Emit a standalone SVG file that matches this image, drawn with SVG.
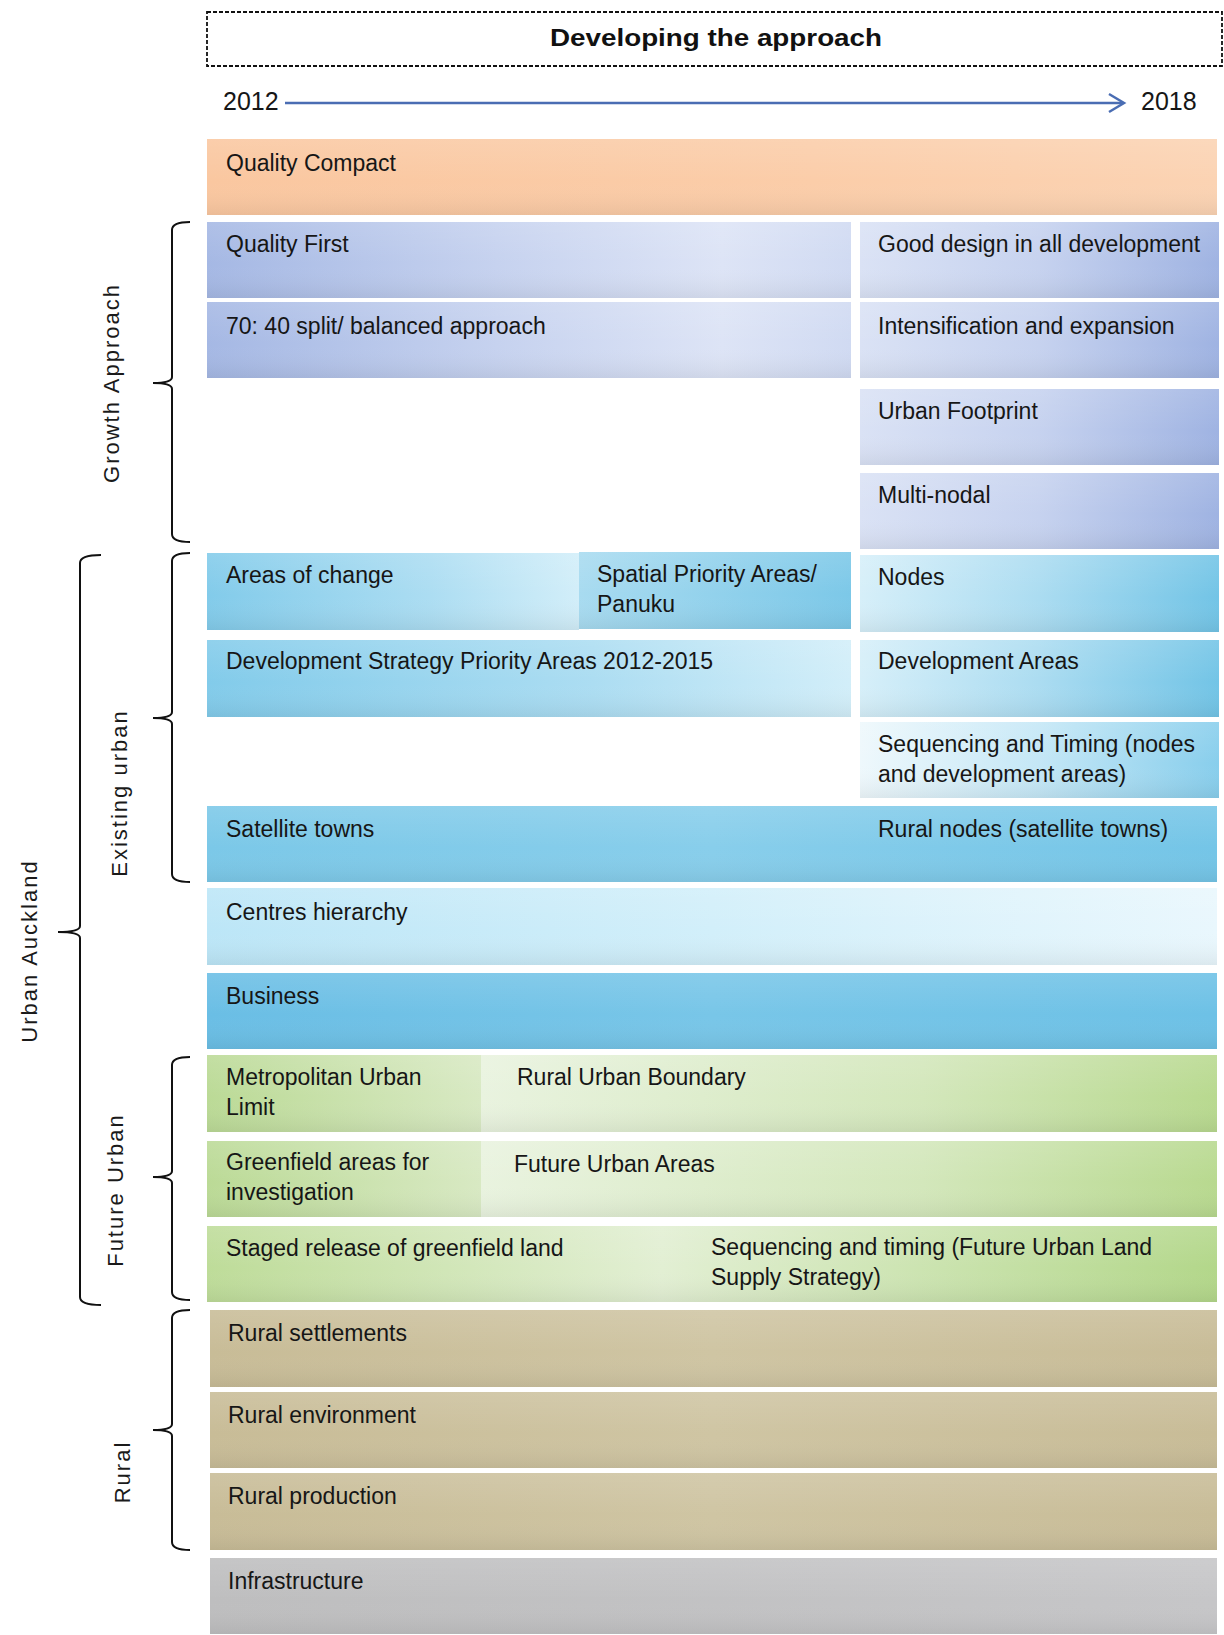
<svg xmlns="http://www.w3.org/2000/svg" width="1224" height="1635" viewBox="0 0 1224 1635">
<defs>
<style>
.t{font-family:"Liberation Sans",Arial,sans-serif;font-size:23px;fill:#161616}
.title{font-family:"Liberation Sans",Arial,sans-serif;font-size:24px;font-weight:bold;fill:#111;text-anchor:middle}
.year{font-family:"Liberation Sans",Arial,sans-serif;font-size:25px;fill:#161616}
.lbl{font-family:"Liberation Sans",Arial,sans-serif;font-size:22px;letter-spacing:2px;fill:#1a1a1a;text-anchor:middle}
.brace{fill:none;stroke:#111;stroke-width:2}
.shade{fill:url(#gShade)}
.dash{fill:#fff;stroke:#111;stroke-width:1.8;stroke-dasharray:4 2}
</style>
<linearGradient id="gShade" x1="0" y1="0" x2="0" y2="1">
<stop offset="0" stop-color="#fff" stop-opacity="0.12"/>
<stop offset="0.55" stop-color="#fff" stop-opacity="0"/>
<stop offset="1" stop-color="#000" stop-opacity="0.06"/>
</linearGradient>
<linearGradient id="gOrange" x1="0" y1="0" x2="1" y2="0">
<stop offset="0" stop-color="#FAC7A0"/><stop offset="0.6" stop-color="#FBCDA9"/><stop offset="1" stop-color="#FBD3B3"/>
</linearGradient>
<linearGradient id="gBlueL" x1="0" y1="0" x2="1" y2="0">
<stop offset="0" stop-color="#A5B8E4"/><stop offset="0.45" stop-color="#C6D2EF"/><stop offset="0.8" stop-color="#DDE4F6"/><stop offset="1" stop-color="#D0DAF2"/>
</linearGradient>
<linearGradient id="gBlueR" x1="0" y1="0" x2="1" y2="0">
<stop offset="0" stop-color="#DAE2F5"/><stop offset="0.5" stop-color="#C6D2EF"/><stop offset="1" stop-color="#9FB3E2"/>
</linearGradient>
<linearGradient id="gCyanL" x1="0" y1="0" x2="1" y2="0">
<stop offset="0" stop-color="#82CBEA"/><stop offset="0.6" stop-color="#ACDDF2"/><stop offset="1" stop-color="#D2EEF9"/>
</linearGradient>
<linearGradient id="gCyanS" x1="0" y1="0" x2="1" y2="0">
<stop offset="0" stop-color="#A8DBF0"/><stop offset="1" stop-color="#7CC8E8"/>
</linearGradient>
<linearGradient id="gCyanR" x1="0" y1="0" x2="1" y2="0">
<stop offset="0" stop-color="#D6EFF9"/><stop offset="0.5" stop-color="#ABDCF1"/><stop offset="1" stop-color="#72C4E6"/>
</linearGradient>
<linearGradient id="gCyanSeq" x1="0" y1="0" x2="1" y2="0">
<stop offset="0" stop-color="#EEF8FC"/><stop offset="0.5" stop-color="#C4E7F6"/><stop offset="1" stop-color="#88CEEC"/>
</linearGradient>
<linearGradient id="gSat" x1="0" y1="0" x2="1" y2="0">
<stop offset="0" stop-color="#7BC8E8"/><stop offset="0.5" stop-color="#88CEEB"/><stop offset="1" stop-color="#74C5E7"/>
</linearGradient>
<linearGradient id="gCentres" x1="0" y1="0" x2="1" y2="0">
<stop offset="0" stop-color="#BCE6F7"/><stop offset="0.5" stop-color="#D2EFFA"/><stop offset="1" stop-color="#E9F7FD"/>
</linearGradient>
<linearGradient id="gBus" x1="0" y1="0" x2="1" y2="0">
<stop offset="0" stop-color="#6ABEE5"/><stop offset="0.5" stop-color="#78C6E8"/><stop offset="1" stop-color="#6DC1E6"/>
</linearGradient>
<linearGradient id="gGreenL" x1="0" y1="0" x2="1" y2="0">
<stop offset="0" stop-color="#BBDA96"/><stop offset="1" stop-color="#D8E9C3"/>
</linearGradient>
<linearGradient id="gGreenR" x1="0" y1="0" x2="1" y2="0">
<stop offset="0" stop-color="#E9F3DF"/><stop offset="0.6" stop-color="#D3E7BB"/><stop offset="1" stop-color="#B8D98F"/>
</linearGradient>
<linearGradient id="gGreenS" x1="0" y1="0" x2="1" y2="0">
<stop offset="0" stop-color="#BEDC99"/><stop offset="0.45" stop-color="#E2EFD3"/><stop offset="1" stop-color="#B3D78A"/>
</linearGradient>
<linearGradient id="gTan" x1="0" y1="0" x2="1" y2="0">
<stop offset="0" stop-color="#C8BC97"/><stop offset="0.5" stop-color="#CFC5A3"/><stop offset="1" stop-color="#C8BC97"/>
</linearGradient>
<linearGradient id="gGrey" x1="0" y1="0" x2="1" y2="0">
<stop offset="0" stop-color="#BEBEBF"/><stop offset="1" stop-color="#C6C6C8"/>
</linearGradient>
</defs>
<rect width="1224" height="1635" fill="#fff"/>

<g id="title">
<rect x="207" y="12" width="1015" height="54" class="dash"/>
<text x="716" y="46" class="title" textLength="332" lengthAdjust="spacingAndGlyphs">Developing the approach</text>
</g>

<g id="timeline-labels">
<text x="223" y="110" class="year">2012</text>
<text x="1141" y="110" class="year">2018</text>
</g>

<g id="connectors">
<line x1="285" y1="103" x2="1122" y2="103" stroke="#4A6DB3" stroke-width="2.5"/>
<path d="M1109,94 L1124,103 L1109,112" fill="none" stroke="#4A6DB3" stroke-width="2.5" stroke-linejoin="miter"/>
</g>

<g id="quality-compact"><rect x="207" y="139" width="1010" height="76" fill="url(#gOrange)"/><rect x="207" y="139" width="1010" height="76" class="shade"/><text x="226" y="171" class="t">Quality Compact</text></g>

<g id="quality-first"><rect x="207" y="222" width="644" height="76" fill="url(#gBlueL)"/><rect x="207" y="222" width="644" height="76" class="shade"/><text x="226" y="252" class="t">Quality First</text></g>
<g id="good-design"><rect x="860" y="222" width="359" height="76" fill="url(#gBlueR)"/><rect x="860" y="222" width="359" height="76" class="shade"/><text x="878" y="252" class="t">Good design in all development</text></g>
<g id="split"><rect x="207" y="302" width="644" height="76" fill="url(#gBlueL)"/><rect x="207" y="302" width="644" height="76" class="shade"/><text x="226" y="334" class="t">70: 40 split/ balanced approach</text></g>
<g id="intensification"><rect x="860" y="302" width="359" height="76" fill="url(#gBlueR)"/><rect x="860" y="302" width="359" height="76" class="shade"/><text x="878" y="334" class="t">Intensification and expansion</text></g>
<g id="urban-footprint"><rect x="860" y="389" width="359" height="76" fill="url(#gBlueR)"/><rect x="860" y="389" width="359" height="76" class="shade"/><text x="878" y="419" class="t">Urban Footprint</text></g>
<g id="multi-nodal"><rect x="860" y="473" width="359" height="76" fill="url(#gBlueR)"/><rect x="860" y="473" width="359" height="76" class="shade"/><text x="878" y="503" class="t">Multi-nodal</text></g>

<g id="areas-of-change"><rect x="207" y="553" width="372" height="77" fill="url(#gCyanL)"/><rect x="207" y="553" width="372" height="77" class="shade"/><text x="226" y="583" class="t">Areas of change</text></g>
<g id="spatial-priority"><rect x="579" y="552" width="272" height="77" fill="url(#gCyanS)"/><rect x="579" y="552" width="272" height="77" class="shade"/><text x="597" y="582" class="t">Spatial Priority Areas/</text><text x="597" y="612" class="t">Panuku</text></g>
<g id="nodes"><rect x="860" y="555" width="359" height="77" fill="url(#gCyanR)"/><rect x="860" y="555" width="359" height="77" class="shade"/><text x="878" y="585" class="t">Nodes</text></g>
<g id="dev-strategy"><rect x="207" y="640" width="644" height="77" fill="url(#gCyanL)"/><rect x="207" y="640" width="644" height="77" class="shade"/><text x="226" y="669" class="t">Development Strategy Priority Areas 2012-2015</text></g>
<g id="dev-areas"><rect x="860" y="640" width="359" height="77" fill="url(#gCyanR)"/><rect x="860" y="640" width="359" height="77" class="shade"/><text x="878" y="669" class="t">Development Areas</text></g>
<g id="sequencing-nodes"><rect x="860" y="722" width="359" height="76" fill="url(#gCyanSeq)"/><rect x="860" y="722" width="359" height="76" class="shade"/><text x="878" y="752" class="t">Sequencing and Timing (nodes</text><text x="878" y="782" class="t">and development areas)</text></g>
<g id="satellite-towns"><rect x="207" y="806" width="1010" height="76" fill="url(#gSat)"/><rect x="207" y="806" width="1010" height="76" class="shade"/><text x="226" y="837" class="t">Satellite towns</text><text x="878" y="837" class="t">Rural nodes (satellite towns)</text></g>
<g id="centres-hierarchy"><rect x="207" y="888" width="1010" height="77" fill="url(#gCentres)"/><rect x="207" y="888" width="1010" height="77" class="shade"/><text x="226" y="920" class="t">Centres hierarchy</text></g>
<g id="business"><rect x="207" y="973" width="1010" height="76" fill="url(#gBus)"/><rect x="207" y="973" width="1010" height="76" class="shade"/><text x="226" y="1004" class="t">Business</text></g>

<g id="metro-urban-limit"><rect x="207" y="1055" width="274" height="77" fill="url(#gGreenL)"/><rect x="207" y="1055" width="274" height="77" class="shade"/><text x="226" y="1085" class="t">Metropolitan Urban</text><text x="226" y="1115" class="t">Limit</text></g>
<g id="rural-urban-boundary"><rect x="481" y="1055" width="736" height="77" fill="url(#gGreenR)"/><rect x="481" y="1055" width="736" height="77" class="shade"/><text x="517" y="1085" class="t">Rural Urban Boundary</text></g>
<g id="greenfield"><rect x="207" y="1141" width="274" height="76" fill="url(#gGreenL)"/><rect x="207" y="1141" width="274" height="76" class="shade"/><text x="226" y="1170" class="t">Greenfield areas for</text><text x="226" y="1200" class="t">investigation</text></g>
<g id="future-urban-areas"><rect x="481" y="1141" width="736" height="76" fill="url(#gGreenR)"/><rect x="481" y="1141" width="736" height="76" class="shade"/><text x="514" y="1172" class="t">Future Urban Areas</text></g>
<g id="staged-release"><rect x="207" y="1226" width="1010" height="76" fill="url(#gGreenS)"/><rect x="207" y="1226" width="1010" height="76" class="shade"/><text x="226" y="1256" class="t">Staged release of greenfield land</text><text x="711" y="1255" class="t">Sequencing and timing (Future Urban Land</text><text x="711" y="1285" class="t">Supply Strategy)</text></g>

<g id="rural-settlements"><rect x="210" y="1310" width="1007" height="77" fill="url(#gTan)"/><rect x="210" y="1310" width="1007" height="77" class="shade"/><text x="228" y="1341" class="t">Rural settlements</text></g>
<g id="rural-environment"><rect x="210" y="1392" width="1007" height="76" fill="url(#gTan)"/><rect x="210" y="1392" width="1007" height="76" class="shade"/><text x="228" y="1423" class="t">Rural environment</text></g>
<g id="rural-production"><rect x="210" y="1473" width="1007" height="77" fill="url(#gTan)"/><rect x="210" y="1473" width="1007" height="77" class="shade"/><text x="228" y="1504" class="t">Rural production</text></g>
<g id="infrastructure"><rect x="210" y="1558" width="1007" height="76" fill="url(#gGrey)"/><rect x="210" y="1558" width="1007" height="76" class="shade"/><text x="228" y="1589" class="t">Infrastructure</text></g>

<g id="braces">
<path class="brace" d="M190,222 Q172,222 172,230 L172,377 Q172,383 153,383 Q172,383 172,389 L172,534 Q172,542 190,542"/>
<path class="brace" d="M190,553 Q172,553 172,561 L172,712 Q172,718 153,718 Q172,718 172,724 L172,874 Q172,882 190,882"/>
<path class="brace" d="M190,1057 Q172,1057 172,1065 L172,1171 Q172,1177 153,1177 Q172,1177 172,1183 L172,1292 Q172,1300 190,1300"/>
<path class="brace" d="M190,1310 Q172,1310 172,1318 L172,1424 Q172,1430 153,1430 Q172,1430 172,1436 L172,1542 Q172,1550 190,1550"/>
<path class="brace" d="M101,555 Q80,555 80,563 L80,926 Q80,932 58,932 Q80,932 80,938 L80,1297 Q80,1305 101,1305"/>
</g>

<g id="group-labels">
<text class="lbl" transform="translate(119,383) rotate(-90)">Growth Approach</text>
<text class="lbl" transform="translate(127,793) rotate(-90)">Existing urban</text>
<text class="lbl" transform="translate(37,951) rotate(-90)">Urban Auckland</text>
<text class="lbl" transform="translate(123,1190) rotate(-90)">Future Urban</text>
<text class="lbl" transform="translate(130,1472) rotate(-90)">Rural</text>
</g>
</svg>
